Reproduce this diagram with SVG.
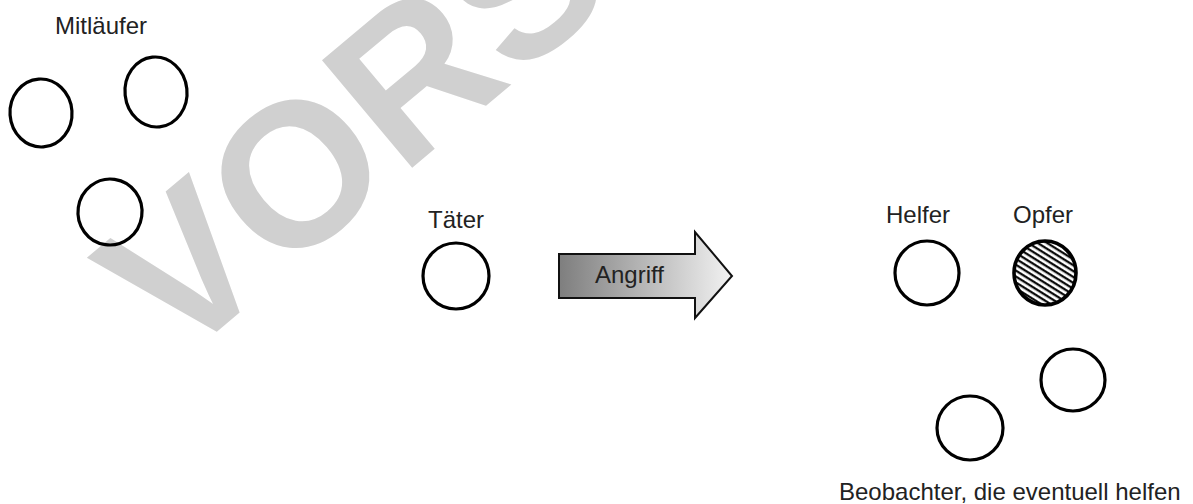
<svg xmlns="http://www.w3.org/2000/svg" width="1193" height="504" viewBox="0 0 1193 504">
  <style>
    .lbl { font-family: "Liberation Sans", Arial, sans-serif; font-size: 24px; fill: #222; }
    .ring { fill: none; stroke: #000; stroke-width: 3.2; }
    .wm { font-family: "Liberation Sans", Arial, sans-serif; font-size: 204px; font-weight: bold; fill: #d0d0d0; }
  </style>
  <defs>
    <linearGradient id="arrowGrad" x1="559" y1="0" x2="732" y2="0" gradientUnits="userSpaceOnUse">
      <stop offset="0" stop-color="#7e7e7e"/>
      <stop offset="1" stop-color="#f2f2f2"/>
    </linearGradient>
    <pattern id="hatch" width="5" height="5" patternUnits="userSpaceOnUse" patternTransform="rotate(32)">
      <rect width="5" height="5" fill="#fff"/>
      <line x1="0" y1="1.2" x2="5" y2="1.2" stroke="#000" stroke-width="2.2"/>
    </pattern>
  </defs>
  <rect width="1193" height="504" fill="#fff"/>

  <text class="wm" transform="translate(176 366) rotate(-40)">VORS</text>

  <g id="mitlaeufer">
    <text class="lbl" x="55" y="34">Mitläufer</text>
    <ellipse id="m1" class="ring" cx="41" cy="113" rx="31" ry="34" transform="rotate(-4 41 113)"/>
    <ellipse id="m2" class="ring" cx="156" cy="92" rx="31" ry="35" transform="rotate(-6 156 92)"/>
    <ellipse id="m3" class="ring" cx="110" cy="212" rx="32" ry="33" transform="rotate(8 110 212)"/>
  </g>

  <g id="taeter">
    <text class="lbl" x="428" y="228">Täter</text>
    <ellipse class="ring" cx="456" cy="276" rx="33" ry="33"/>
  </g>

  <g id="connectors">
    <polygon points="559,254 695,254 695,232 732,276 695,318 695,298 559,298" fill="url(#arrowGrad)" stroke="#111" stroke-width="2" stroke-linejoin="miter"/>
    <text class="lbl" x="595" y="283">Angriff</text>
  </g>

  <g id="helfer">
    <text class="lbl" x="886" y="223">Helfer</text>
    <ellipse class="ring" cx="927" cy="273" rx="32" ry="32" stroke-width="3.6"/>
  </g>

  <g id="opfer">
    <text class="lbl" x="1013" y="223">Opfer</text>
    <ellipse cx="1045" cy="273" rx="31" ry="32" fill="url(#hatch)" stroke="#000" stroke-width="3.6"/>
  </g>

  <g id="beobachter">
    <ellipse id="b1" class="ring" cx="1073" cy="380" rx="32" ry="31"/>
    <ellipse id="b2" class="ring" cx="970" cy="428" rx="33" ry="32"/>
    <text class="lbl" x="839" y="500">Beobachter, die eventuell helfen</text>
  </g>
</svg>
